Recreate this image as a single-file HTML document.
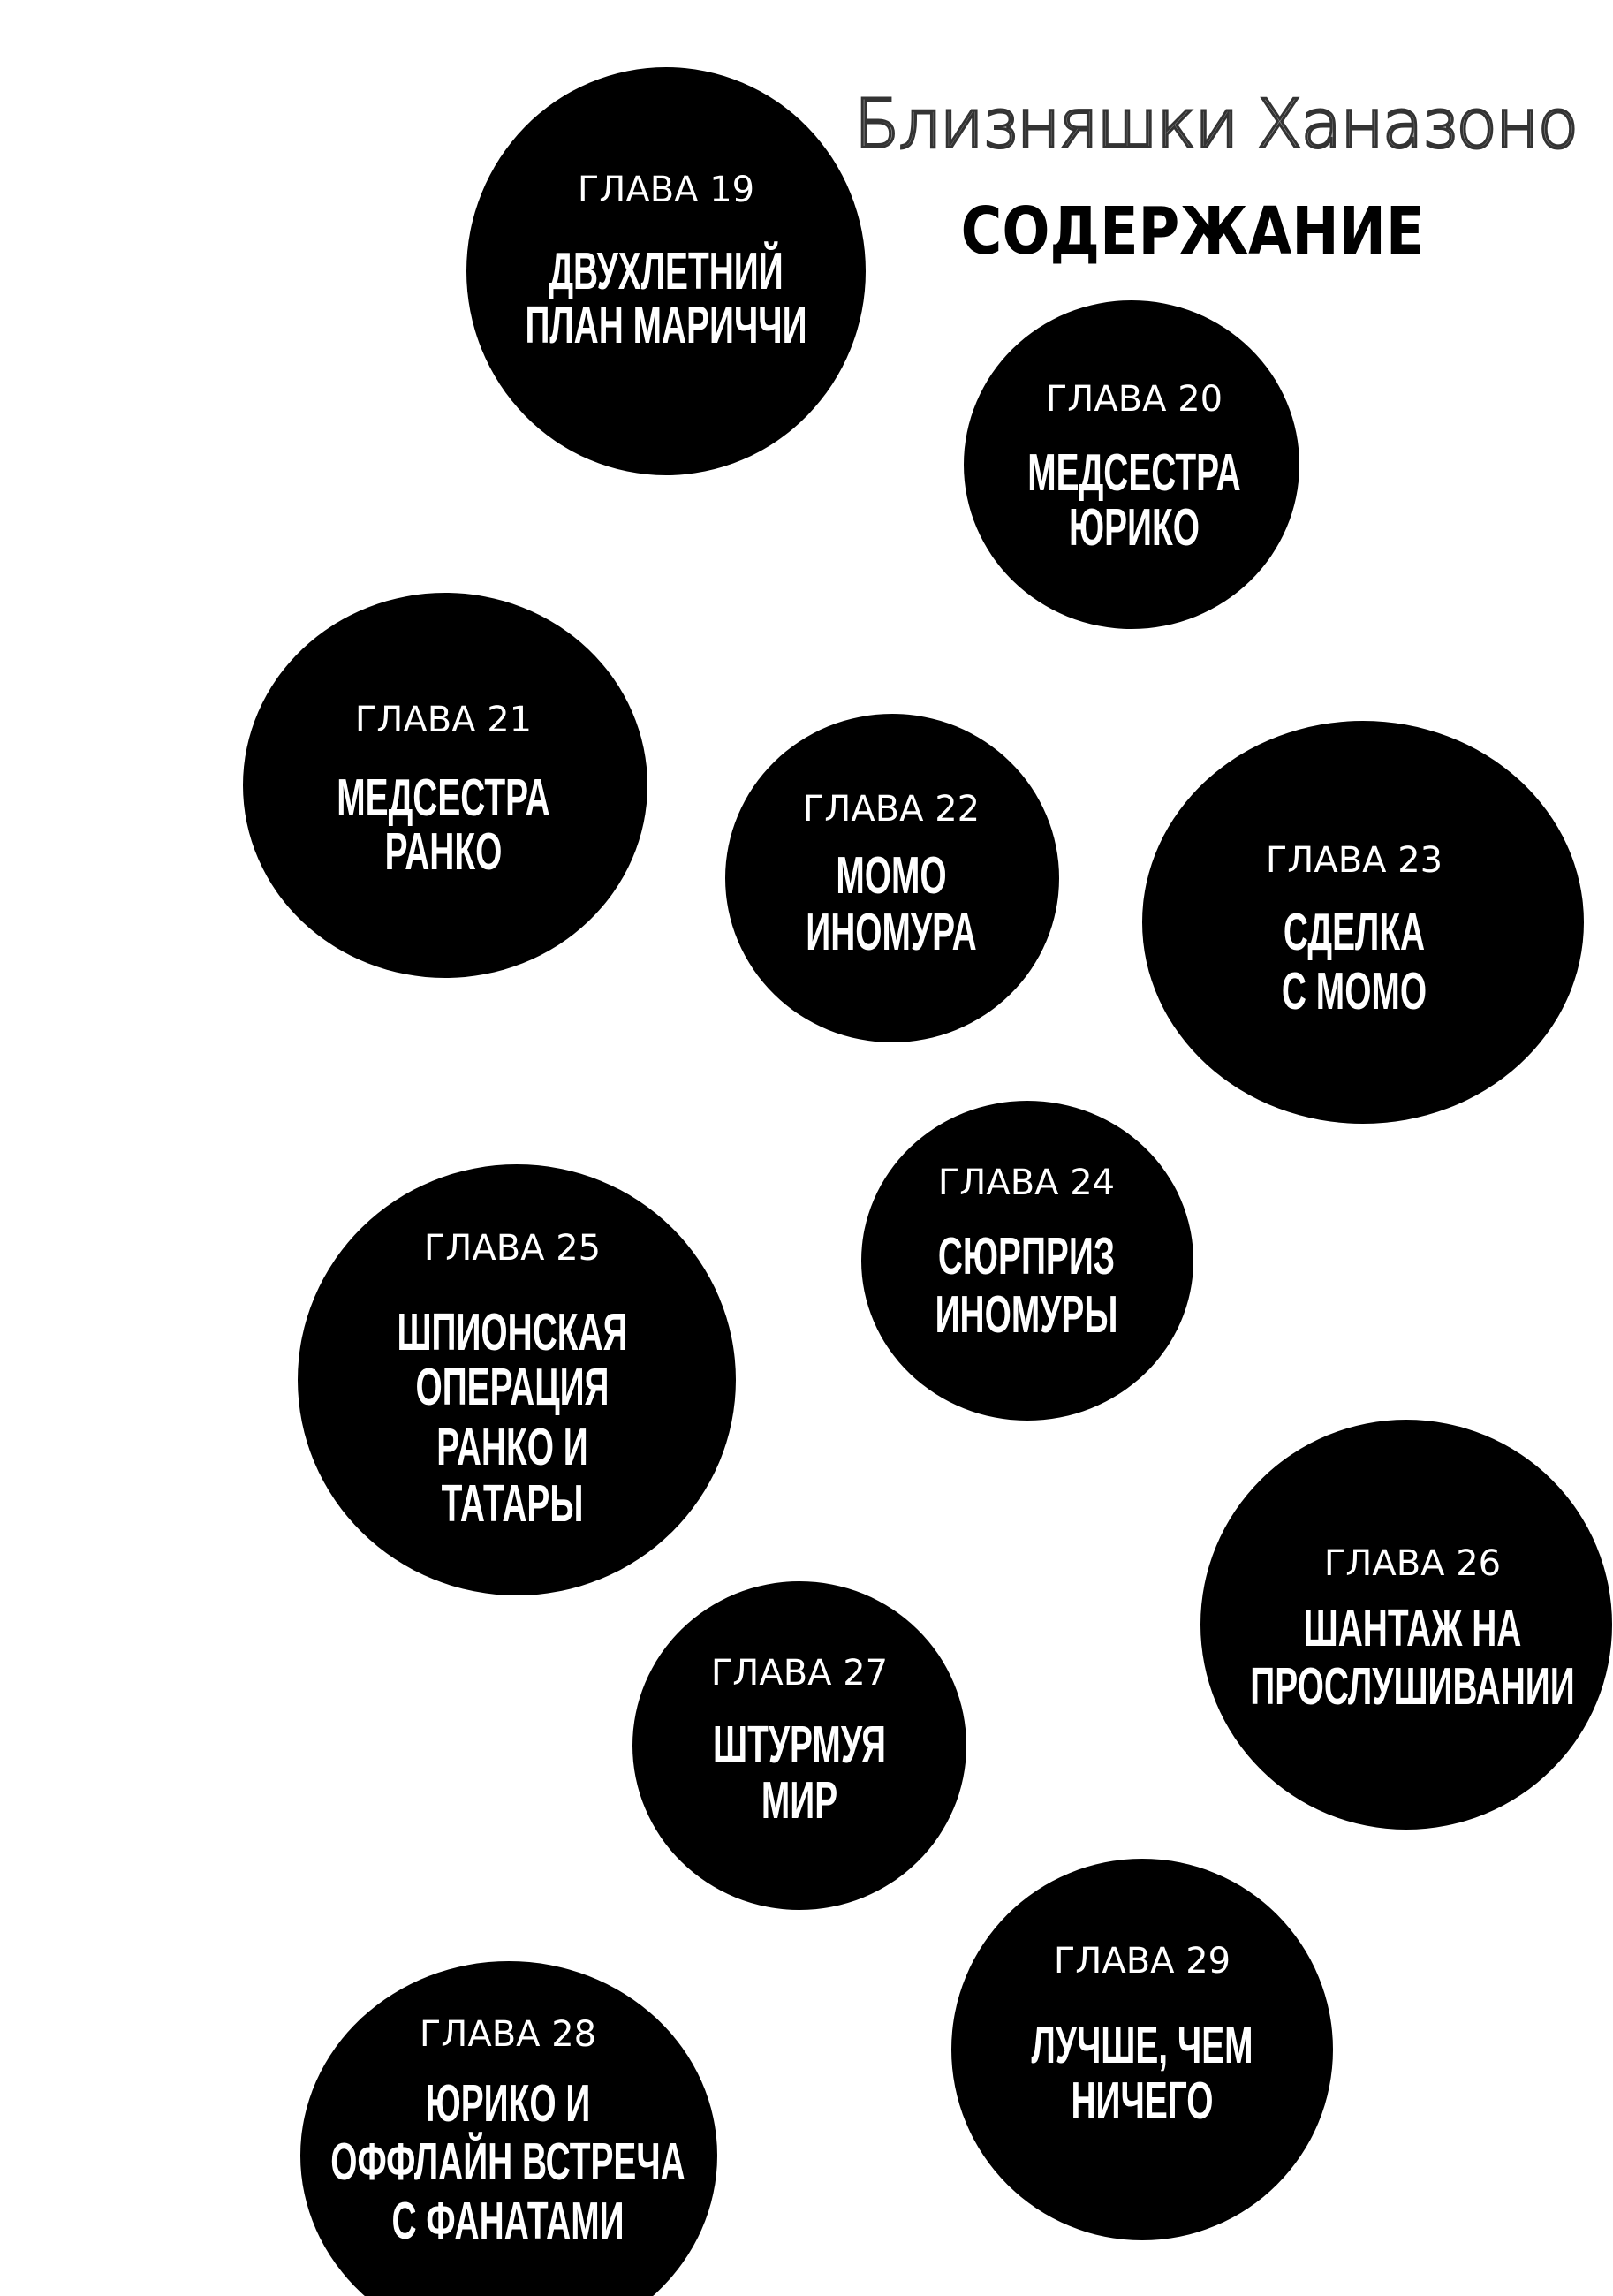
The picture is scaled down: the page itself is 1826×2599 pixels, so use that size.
<!DOCTYPE html>
<html><head><meta charset="utf-8">
<style>
html,body{margin:0;padding:0;background:#fff;}
#c{position:relative;width:1826px;height:2599px;overflow:hidden;background:#fff;}
.b{position:absolute;background:#000;border-radius:50%;}
.t{position:absolute;transform:translate(-50%,-50%);white-space:nowrap;color:#fff;text-align:center;}
.g{font-family:"DejaVu Sans","Liberation Sans",sans-serif;font-size:40px;}
.h{font-family:"Liberation Sans",sans-serif;font-weight:bold;font-size:54px;transform:translate(-50%,-50%) scale(0.72,1.1);}
</style></head><body><div id="c">
<div class="t" style="left:1376px;top:140px;font-family:'DejaVu Sans','Liberation Sans',sans-serif;font-size:76px;font-weight:300;-webkit-text-stroke:3px #333;color:#999;letter-spacing:-2px;">Близняшки Ханазоно</div>
<div class="t" style="left:1350px;top:262px;color:#000;font-family:'DejaVu Sans','Liberation Sans',sans-serif;font-size:74px;font-weight:bold;transform:translate(-50%,-50%) scaleX(0.86);">СОДЕРЖАНИЕ</div>

<div class="b" style="left:528px;top:76px;width:452px;height:462px;"></div>
<div class="b" style="left:1091px;top:340px;width:380px;height:372px;"></div>
<div class="b" style="left:275px;top:671px;width:458px;height:436px;"></div>
<div class="b" style="left:821px;top:808px;width:378px;height:372px;"></div>
<div class="b" style="left:1293px;top:816px;width:500px;height:456px;"></div>
<div class="b" style="left:975px;top:1246px;width:376px;height:362px;"></div>
<div class="b" style="left:337px;top:1318px;width:496px;height:488px;"></div>
<div class="b" style="left:1359px;top:1607px;width:466px;height:464px;"></div>
<div class="b" style="left:716px;top:1790px;width:378px;height:372px;"></div>
<div class="b" style="left:1077px;top:2104px;width:432px;height:432px;"></div>
<div class="b" style="left:340px;top:2220px;width:472px;height:440px;"></div>

<div class="t g" style="left:754px;top:215px;">ГЛАВА 19</div>
<div class="t h" style="left:754px;top:307px;">ДВУХЛЕТНИЙ</div>
<div class="t h" style="left:754px;top:368px;">ПЛАН МАРИЧЧИ</div>

<div class="t g" style="left:1284px;top:452px;">ГЛАВА 20</div>
<div class="t h" style="left:1284px;top:535px;">МЕДСЕСТРА</div>
<div class="t h" style="left:1284px;top:597px;">ЮРИКО</div>

<div class="t g" style="left:502px;top:815px;">ГЛАВА 21</div>
<div class="t h" style="left:502px;top:903px;">МЕДСЕСТРА</div>
<div class="t h" style="left:502px;top:964px;">РАНКО</div>

<div class="t g" style="left:1009px;top:916px;">ГЛАВА 22</div>
<div class="t h" style="left:1009px;top:991px;">МОМО</div>
<div class="t h" style="left:1009px;top:1055px;">ИНОМУРА</div>

<div class="t g" style="left:1533px;top:974px;">ГЛАВА 23</div>
<div class="t h" style="left:1533px;top:1055px;">СДЕЛКА</div>
<div class="t h" style="left:1533px;top:1122px;">С МОМО</div>

<div class="t g" style="left:1162px;top:1339px;">ГЛАВА 24</div>
<div class="t h" style="left:1162px;top:1422px;">СЮРПРИЗ</div>
<div class="t h" style="left:1162px;top:1488px;">ИНОМУРЫ</div>

<div class="t g" style="left:580px;top:1413px;">ГЛАВА 25</div>
<div class="t h" style="left:580px;top:1508px;">ШПИОНСКАЯ</div>
<div class="t h" style="left:580px;top:1570px;">ОПЕРАЦИЯ</div>
<div class="t h" style="left:580px;top:1638px;">РАНКО И</div>
<div class="t h" style="left:580px;top:1702px;">ТАТАРЫ</div>

<div class="t g" style="left:1599px;top:1770px;">ГЛАВА 26</div>
<div class="t h" style="left:1599px;top:1843px;">ШАНТАЖ НА</div>
<div class="t h" style="left:1599px;top:1909px;">ПРОСЛУШИВАНИИ</div>

<div class="t g" style="left:905px;top:1894px;">ГЛАВА 27</div>
<div class="t h" style="left:905px;top:1975px;">ШТУРМУЯ</div>
<div class="t h" style="left:905px;top:2038px;">МИР</div>

<div class="t g" style="left:1293px;top:2220px;">ГЛАВА 29</div>
<div class="t h" style="left:1293px;top:2315px;">ЛУЧШЕ, ЧЕМ</div>
<div class="t h" style="left:1293px;top:2378px;">НИЧЕГО</div>

<div class="t g" style="left:575px;top:2303px;">ГЛАВА 28</div>
<div class="t h" style="left:575px;top:2381px;">ЮРИКО И</div>
<div class="t h" style="left:575px;top:2447px;">ОФФЛАЙН ВСТРЕЧА</div>
<div class="t h" style="left:575px;top:2514px;">С ФАНАТАМИ</div>
</div></body></html>
